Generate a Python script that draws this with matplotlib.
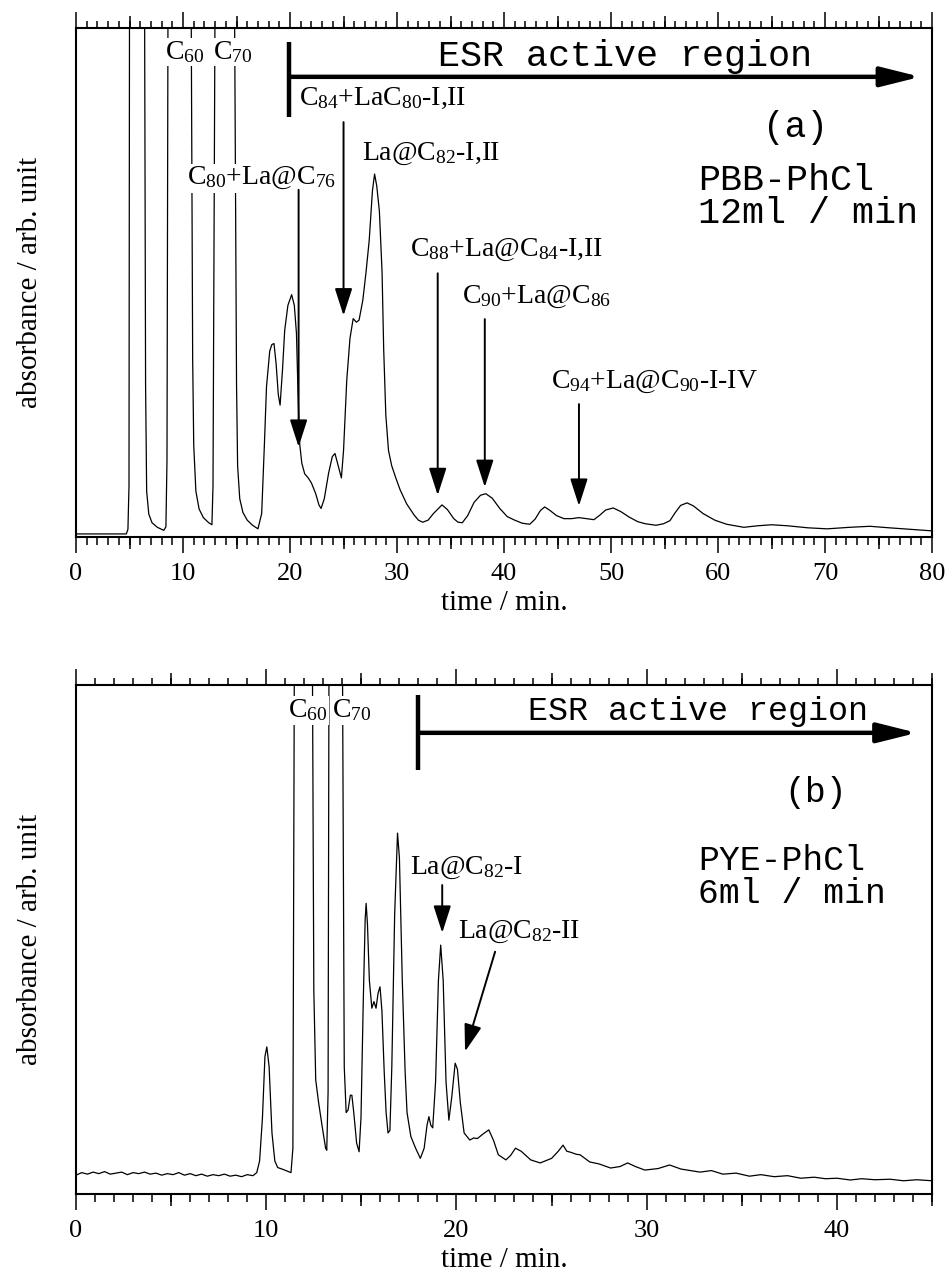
import matplotlib
matplotlib.use('Agg')
import matplotlib.pyplot as plt

plt.rcParams['font.family'] = ['Liberation Serif', 'DejaVu Serif']
plt.rcParams['mathtext.fontset'] = 'custom'
plt.rcParams['mathtext.rm'] = 'Liberation Serif'
plt.rcParams['mathtext.it'] = 'Liberation Serif:italic'

# (a) PBB-PhCl column, 12 ml/min -- absorbance in % of the plot height
top_time = [0, 4.7, 4.85, 4.95, 5.0, 6.4, 6.5, 6.6, 6.8, 7.1, 7.6, 8.2, 8.4, 8.5, 8.6,
            10.75, 10.9, 11.0, 11.2, 11.5, 11.9, 12.4, 12.7, 12.8, 13.0, 14.8, 15.0, 15.1,
            15.3, 15.6, 16.0, 16.5, 17.0, 17.35, 17.6, 17.8, 18.1, 18.3, 18.5, 18.7, 18.9,
            19.07, 19.3, 19.5, 19.8, 20.15, 20.4, 20.6, 20.75, 20.9, 21.1, 21.37, 21.7,
            22.0, 22.4, 22.7, 22.9, 23.2, 23.6, 23.95, 24.2, 24.5, 24.8, 25.0, 25.3, 25.6,
            25.9, 26.2, 26.45, 26.8, 27.1, 27.4, 27.7, 27.9, 28.1, 28.35, 28.6, 28.75,
            28.95, 29.2, 29.5, 29.9, 30.3, 30.9, 31.6, 32.0, 32.4, 32.9, 33.4, 34.2, 34.7,
            35.3, 35.7, 36.1, 36.6, 37.2, 37.8, 38.3, 38.9, 39.6, 40.3, 41.0, 41.7, 42.4,
            42.9, 43.4, 43.8, 44.3, 44.9, 45.6, 46.3, 47.0, 47.7, 48.4, 48.9, 49.5, 50.2,
            50.9, 51.7, 52.5, 53.2, 54.2, 54.9, 55.5, 56.0, 56.5, 57.1, 57.7, 58.6, 59.7,
            60.8, 62.4, 63.7, 65.0, 66.5, 68.4, 70.2, 72.3, 74.2, 76.0, 78.0, 80.0]
top_abs = [0.6, 0.6, 1.5, 10, 110, 110, 30, 9, 4.5, 2.8, 1.9, 1.3, 2.0, 15, 110,
           110, 35, 18, 9, 5.5, 3.8, 2.8, 2.4, 10, 110, 110, 30, 14,
           7.5, 4.8, 3.3, 2.3, 1.6, 4.6, 18, 29.5, 36.5, 37.8, 38, 34, 28,
           25.9, 33, 40.6, 45.5, 47.6, 45.5, 40, 28, 18.3, 14.5, 12.4, 11.6,
           10.6, 8.5, 6.3, 5.6, 7.5, 12.5, 15.8, 16.4, 14, 11.6, 17, 30.8, 39,
           42.9, 42.2, 42.6, 46.5, 52, 58.3, 68, 71.3, 69, 64, 52, 37,
           24, 17, 14, 11.5, 9.2, 6.5, 4.3, 3.3, 2.9, 3.3, 4.6, 6.3, 5.4,
           3.6, 2.9, 2.8, 4.2, 6.8, 8.2, 8.5, 7.6, 5.6, 4.0, 3.3, 2.7, 2.5,
           3.5, 5.2, 5.9, 5.2, 4.2, 3.6, 3.6, 3.8, 3.6, 3.4, 4.2, 5.3, 5.7,
           5.0, 3.9, 3.0, 2.6, 2.3, 2.6, 3.2, 4.8, 6.2, 6.7, 6.1, 4.6, 3.3,
           2.5, 1.9, 2.2, 2.4, 2.2, 1.8, 1.6, 1.9, 2.1, 1.8, 1.5, 1.2]

# (b) PYE-PhCl column, 6 ml/min
bottom_time = [0, 0.3, 0.6, 0.9, 1.2, 1.5, 1.8, 2.1, 2.4, 2.7, 3.0, 3.3, 3.6, 3.9, 4.2,
               4.5, 4.8, 5.1, 5.4, 5.7, 6.0, 6.3, 6.6, 6.9, 7.2, 7.5, 7.8, 8.1, 8.4, 8.7,
               9.0, 9.3, 9.5, 9.65, 9.8, 9.93, 10.03, 10.15, 10.3, 10.45, 10.6, 10.9, 11.1,
               11.3, 11.4, 11.48, 12.42, 12.5, 12.6, 12.75, 12.95, 13.12, 13.18, 13.25,
               13.3, 14.0, 14.1, 14.2, 14.3, 14.42, 14.5, 14.6, 14.75, 14.88, 14.98, 15.1,
               15.2, 15.25, 15.32, 15.42, 15.55, 15.66, 15.77, 15.88, 15.98, 16.08, 16.2,
               16.3, 16.4, 16.5, 16.6, 16.75, 16.9, 17.0, 17.15, 17.3, 17.4, 17.6, 17.85,
               18.1, 18.3, 18.45, 18.55, 18.65, 18.75, 18.9, 19.05, 19.17, 19.3, 19.45,
               19.6, 19.75, 19.93, 20.05, 20.2, 20.4, 20.7, 20.9, 21.1, 21.4, 21.7, 21.95,
               22.2, 22.6, 22.85, 23.1, 23.4, 23.9, 24.4, 25.0, 25.35, 25.6, 25.8, 26.0,
               26.3, 26.5, 27.0, 27.5, 28.1, 28.6, 29.0, 29.4, 29.9, 30.6, 31.2, 31.8,
               32.8, 33.4, 34.0, 34.7, 35.4, 36.0, 36.7, 37.4, 38.1, 38.8, 39.4, 40.0,
               40.7, 41.3, 42.0, 42.8, 43.5, 44.2, 45.0]
bottom_abs = [3.7, 4.2, 3.9, 4.3, 4.0, 4.4, 3.9, 4.1, 4.3, 3.8, 4.2, 4.0, 4.3, 3.9, 4.1,
              3.7, 4.0, 3.8, 4.2, 3.7, 4.0, 3.6, 3.9, 3.5, 3.8, 3.6, 3.9, 3.5, 3.7, 3.4,
              3.8, 3.6, 4.2, 6.5, 15, 27, 28.9, 25, 12, 6.5, 5.2, 4.8, 4.5,
              4.2, 9, 110, 110, 40, 22.4, 18, 13, 9, 8.6, 20,
              110, 110, 25, 16, 16.5, 19.4, 19.4, 16, 10, 8.3, 15, 38,
              54, 57.1, 53, 42, 36.5, 37.8, 36.5, 39.5, 40.7, 36, 24,
              16, 12, 12.5, 25, 55, 70.9, 66, 42, 24, 16, 11.3, 9,
              7.0, 9, 13.5, 15.2, 13.5, 13, 22, 42, 48.9, 42, 22,
              14.5, 19, 25.7, 24.5, 18, 12, 10.6, 11, 10.9, 11.8, 12.6, 10.5,
              7.7, 6.7, 7.6, 9.0, 8.4, 6.7, 6.1, 7.0, 8.4, 9.6, 8.4, 8.2,
              7.8, 7.7, 6.3, 5.9, 5.1, 5.4, 6.1, 5.4, 4.7, 5.0, 5.7, 4.9,
              4.3, 4.6, 3.9, 4.1, 3.5, 3.8, 3.4, 3.6, 3.1, 3.3, 3.0, 3.1,
              2.75, 3.0, 2.8, 2.9, 2.6, 2.8, 2.6]

top_ticks = list(range(0, 81, 10))
bottom_ticks = list(range(0, 46, 10))

SERIF = 20
MONO = ['Liberation Mono', 'DejaVu Sans Mono']


def style_axis(axis, xmax, major):
    axis.set_xlim(0, xmax)
    axis.set_ylim(0, 100)
    axis.set_yticks([])
    axis.set_xticks(major)
    axis.set_xticks(range(0, int(xmax) + 1), minor=True)
    axis.tick_params(axis='x', which='major', direction='out', length=11.5, width=1.1,
                     top=True, labelsize=19, pad=7)
    axis.tick_params(axis='x', which='minor', direction='out', length=5.4, width=1.1,
                     top=True)
    for spine in axis.spines.values():
        spine.set_linewidth(1.5)
    medium = [m for m in range(5, int(xmax) + 1, 10)]
    for side in ('bottom', 'top'):
        secondary = axis.secondary_xaxis(side)
        secondary.set_xticks(medium)
        secondary.tick_params(length=8.6, width=1.1, labelbottom=False, labeltop=False)
        secondary.spines[side].set_visible(False)
    axis.set_xlabel('time / min.', fontsize=21, labelpad=4)
    axis.set_ylabel('absorbance / arb. unit', fontsize=21, labelpad=24)


def label(axis, x, y, text, ha='left'):
    axis.text(x, y, text, fontsize=SERIF, ha=ha, va='center', zorder=4,
              bbox=dict(boxstyle='square,pad=0.05', fc='white', ec='none'))


def arrow(axis, x, top, tip, x_top=None):
    axis.annotate('', xy=(x, tip), xytext=(x if x_top is None else x_top, top),
                  arrowprops=dict(arrowstyle='-|>,head_length=1.4,head_width=0.45',
                                  mutation_scale=12, lw=1.4, color='black',
                                  shrinkA=0, shrinkB=0), zorder=5)


def esr_marker(axis, x_start, x_end, y_mid, y_low, y_high, text_x, text_y, size):
    axis.plot([x_start, x_start], [y_low, y_high], color='black', lw=3.2,
              solid_capstyle='butt')
    axis.annotate('', xy=(x_end, y_mid), xytext=(x_start, y_mid),
                  arrowprops=dict(arrowstyle='-|>,head_length=1.2,head_width=0.3',
                                  mutation_scale=20, lw=3.2, color='black',
                                  shrinkA=0, shrinkB=0))
    axis.text(text_x, text_y, 'ESR active region', family=MONO, fontsize=size,
              ha='center', va='center')


fig = plt.figure(figsize=(9.48, 12.77), dpi=100)
ax_a = fig.add_axes([0.0802, 0.5795, 0.903, 0.3986])
ax_b = fig.add_axes([0.0802, 0.065, 0.903, 0.3986])

# panel (a)
ax_a.plot(top_time, top_abs, color='black', lw=0.9)
style_axis(ax_a, 80, top_ticks)
label(ax_a, 10.2, 95.3, r'C$\mathregular{_{60}}$', ha='center')
label(ax_a, 14.6, 95.3, r'C$\mathregular{_{70}}$', ha='center')
label(ax_a, 20.85, 86.2, r'C$\mathregular{_{84}}$+LaC$\mathregular{_{80}}$-I,II')
label(ax_a, 26.7, 75.2, r'La@C$\mathregular{_{82}}$-I,II')
label(ax_a, 10.4, 70.5, r'C$\mathregular{_{80}}$+La@C$\mathregular{_{76}}$')
label(ax_a, 31.2, 56.4, r'C$\mathregular{_{88}}$+La@C$\mathregular{_{84}}$-I,II')
label(ax_a, 36.1, 47.2, r'C$\mathregular{_{90}}$+La@C$\mathregular{_{86}}$')
label(ax_a, 44.4, 30.5, r'C$\mathregular{_{94}}$+La@C$\mathregular{_{90}}$-I-IV')
arrow(ax_a, 20.8, 68.2, 17.7)
arrow(ax_a, 25.0, 81.5, 43.5)
arrow(ax_a, 33.8, 51.8, 8.2)
arrow(ax_a, 38.2, 42.8, 9.8)
arrow(ax_a, 47.0, 26.1, 6.1)
esr_marker(ax_a, 19.93, 78.9, 90.4, 82.5, 97.2, 51.3, 94.3, 26.5)
ax_a.text(67.2, 80.4, '(a)', family=MONO, fontsize=26, ha='center', va='center')
ax_a.text(58.1, 70.1, 'PBB-PhCl', family=MONO, fontsize=26.5, ha='left', va='center')
ax_a.text(58.1, 63.5, '12ml / min', family=MONO, fontsize=26.5, ha='left', va='center')

# panel (b)
ax_b.plot(bottom_time, bottom_abs, color='black', lw=0.9)
style_axis(ax_b, 45, bottom_ticks)
label(ax_b, 12.2, 95.0, r'C$\mathregular{_{60}}$', ha='center')
label(ax_b, 14.5, 95.0, r'C$\mathregular{_{70}}$', ha='center')
label(ax_b, 17.56, 64.0, r'La@C$\mathregular{_{82}}$-I')
label(ax_b, 20.1, 51.5, r'La@C$\mathregular{_{82}}$-II')
arrow(ax_b, 19.25, 60.7, 51.3)
arrow(ax_b, 20.45, 47.6, 28.0, x_top=22.03)
esr_marker(ax_b, 18.0, 44.2, 90.6, 83.3, 98.0, 32.7, 94.7, 24)
ax_b.text(38.9, 78.8, '(b)', family=MONO, fontsize=25, ha='center', va='center')
ax_b.text(32.7, 65.6, 'PYE-PhCl', family=MONO, fontsize=25, ha='left', va='center')
ax_b.text(32.7, 59.1, '6ml / min', family=MONO, fontsize=25, ha='left', va='center')

fig.savefig('out.png', dpi=100)
